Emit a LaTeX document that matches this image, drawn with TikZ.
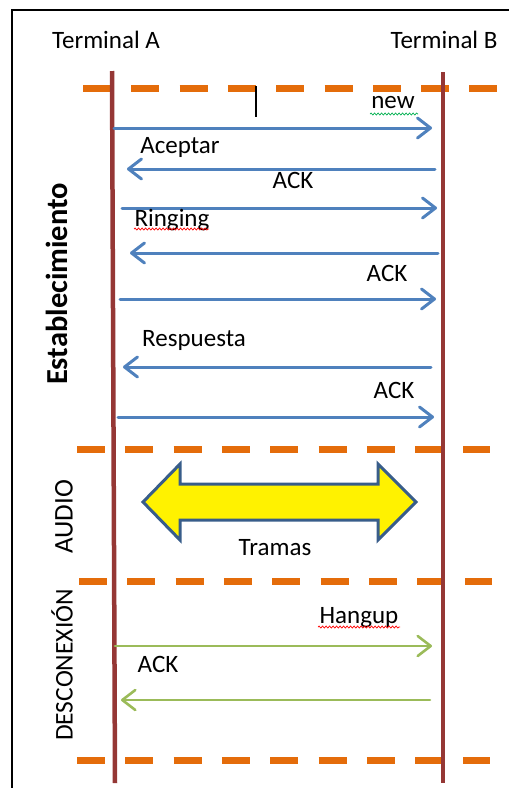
\documentclass[tikz,border=0pt]{standalone}
\usepackage{fontspec}
\setmainfont{Carlito}
\usetikzlibrary{arrows.meta,decorations.pathmorphing}
\definecolor{lifeline}{HTML}{953735}
\definecolor{phase}{HTML}{E46C0A}
\definecolor{msgblue}{HTML}{4F81BD}
\definecolor{msggreen}{HTML}{9BBB59}
\definecolor{bandedge}{HTML}{385D8A}
\definecolor{squigred}{HTML}{FF0000}
\definecolor{squiggreen}{HTML}{00B050}

\begin{document}
\begin{tikzpicture}[x=1pt,y=-1pt,
  lbl/.style={font=\fontsize{25}{30}\selectfont, anchor=base, inner sep=0pt},
  phaselbl/.style={font=\fontsize{27}{32}\selectfont, rotate=90, inner sep=0pt},
  phaseline/.style={phase, line width=7pt, dash pattern=on 28pt off 20.3pt},
  lifelinestyle/.style={lifeline, line width=4.5pt},
  bluemsg/.style={msgblue, line width=3pt, line cap=round, -{Straight Barb[round,length=13pt,width=20pt]}},
  greenmsg/.style={msggreen, line width=2.6pt, line cap=round, -{Straight Barb[round,length=13pt,width=20pt]}},
  squiggle/.style={line width=0.7pt, decorate, decoration={snake, segment length=3.5pt, amplitude=1pt}}]
\useasboundingbox (0,0) rectangle (509,788);

% frame
\draw[black, line width=2pt] (12,788) -- (12,10) -- (509,10);

% terminal headings
\node[lbl] (ta) at (106,48) {Terminal A};
\node[lbl] (tb) at (444,48) {Terminal B};

% phase separators
\draw[phaseline] (83,88) -- (498,88);
\draw[phaseline] (77,449) -- (490,449);
\draw[phaseline] (79,581) -- (492,581);
\draw[phaseline] (77,760) -- (490,760);

% lifelines
\coordinate (atop) at (112,71);
\coordinate (abot) at (115,783);
\coordinate (btop) at (443,72);
\coordinate (bbot) at (443,783);
\draw[lifelinestyle] (atop) -- (abot);
\draw[lifelinestyle] (btop) -- (bbot);

% text cursor mark
\coordinate (cur1) at (256,86);
\coordinate (cur2) at (256,117);
\draw[black, line width=2pt] (cur1) -- (cur2);

% phase names
\node[phaselbl, font=\fontsize{30.5}{36}\selectfont\bfseries] (pest) at (57,284) {Establecimiento};
\node[phaselbl] (paud) at (64,517) {AUDIO};
\node[phaselbl, font=\fontsize{25.5}{30}\selectfont] (pdes) at (62,665) {DESCONEXIÓN};

% establishment messages
\coordinate (m1a) at (114,128);  \coordinate (m1b) at (432,128);
\coordinate (m2a) at (435,169);  \coordinate (m2b) at (127,169);
\coordinate (m3a) at (122,208);  \coordinate (m3b) at (437,208);
\coordinate (m4a) at (438,253);  \coordinate (m4b) at (130,253);
\coordinate (m5a) at (120,299);  \coordinate (m5b) at (436,299);
\coordinate (m6a) at (431,367);  \coordinate (m6b) at (123,367);
\coordinate (m7a) at (118,417);  \coordinate (m7b) at (434,417);
\draw[bluemsg] (m1a) -- (m1b);
\draw[bluemsg] (m2a) -- (m2b);
\draw[bluemsg] (m3a) -- (m3b);
\draw[bluemsg] (m4a) -- (m4b);
\draw[bluemsg] (m5a) -- (m5b);
\draw[bluemsg] (m6a) -- (m6b);
\draw[bluemsg] (m7a) -- (m7b);

\node[lbl] (lnew) at (393,108) {new};
\node[lbl] (lacep) at (180,153) {Aceptar};
\node[lbl] (lack1) at (293,188) {ACK};
\node[lbl] (lring) at (172,226) {Ringing};
\node[lbl] (lack2) at (387,281) {ACK};
\node[lbl] (lresp) at (194,346) {Respuesta};
\node[lbl] (lack3) at (394,398) {ACK};

% audio frames
\draw[bandedge, line width=3pt, fill=yellow, line join=miter]
  (143,502) -- (180,464) -- (180,484) -- (378,484) -- (378,464) -- (416,502)
  -- (378,540) -- (378,520) -- (180,520) -- (180,540) -- cycle;
\node[lbl] (ltram) at (275,555) {Tramas};

% disconnection messages
\coordinate (d1a) at (115,646);  \coordinate (d1b) at (432,646);
\coordinate (d2a) at (430,700);  \coordinate (d2b) at (121,700);
\draw[greenmsg] (d1a) -- (d1b);
\draw[greenmsg] (d2a) -- (d2b);
\node[lbl] (lhang) at (359,623) {Hangup};
\node[lbl] (lack4) at (158,672) {ACK};

% spelling marks under words
\draw[squiggle, squiggreen] (370,114) -- (418,114);
\draw[squiggle, squigred] (134,229) -- (209,229);
\draw[squiggle, squigred] (318,627) -- (400,627);
\end{tikzpicture}
\end{document}
